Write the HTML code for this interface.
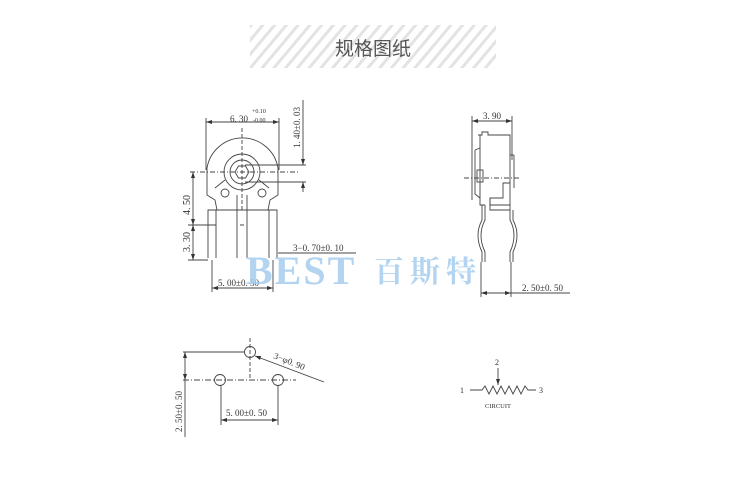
<!DOCTYPE html>
<html><head><meta charset="utf-8"><style>
html,body{margin:0;padding:0;background:#fff;width:750px;height:484px;overflow:hidden}
svg{display:block}
text{font-family:"Liberation Serif",serif;fill:#333}
</style></head><body>
<svg width="750" height="484" viewBox="0 0 750 484" xmlns="http://www.w3.org/2000/svg">
<defs>
<pattern id="st" width="9" height="9" patternUnits="userSpaceOnUse" patternTransform="rotate(40)">
<rect width="9" height="9" fill="#fff"/><rect width="3" height="9" fill="#e3e3e3"/>
</pattern>
</defs>
<rect x="250" y="25" width="246" height="43" fill="url(#st)"/>
<text x="373" y="55" text-anchor="middle" style="font-family:'Liberation Sans','Noto Sans CJK SC',sans-serif;font-size:19px;fill:#555">规格图纸</text>

<g stroke="#444" stroke-width="0.9" fill="none">
<!-- front view -->
<line x1="206" y1="122" x2="279" y2="122"/>
<line x1="206" y1="118" x2="206" y2="170"/>
<line x1="279" y1="118" x2="279" y2="170"/>
<path d="M207 168 A36 36 0 0 1 278 168 L278 195 L270 200 L268 210 L277 210 L277 258 M207 168 L207 195 L215 200 L217 210 L208 210 L208 258"/>
<path d="M208 210 L277 210 M216 210 L216 258 M269 210 L269 258"/>
<path d="M237 195 L237 258 M247 195 L247 258 M240 225 L244 225"/>
<circle cx="242" cy="172" r="18"/>
<circle cx="242" cy="172" r="12"/>
<polygon points="249,172 245.5,178 238.5,178 235,172 238.5,166 245.5,166"/>
<circle cx="225" cy="193" r="4"/>
<circle cx="262" cy="193" r="4"/>
<path d="M215 188 L225 180 M269 188 L259 180" />
<line x1="242" y1="128" x2="242" y2="210" stroke-dasharray="4,2"/>
<line x1="190" y1="172" x2="298" y2="172" stroke-dasharray="5,2,1,2"/>
<line x1="245" y1="165" x2="306" y2="165"/>
<line x1="245" y1="182" x2="306" y2="182"/>
<line x1="303" y1="100" x2="303" y2="165"/>
<line x1="303" y1="182" x2="303" y2="192"/>
<line x1="188" y1="225" x2="216" y2="225"/>
<line x1="188" y1="260" x2="208" y2="260"/>
<line x1="193" y1="172" x2="193" y2="260"/>
<line x1="212" y1="260" x2="212" y2="292"/>
<line x1="273" y1="260" x2="273" y2="292"/>
<line x1="212" y1="288" x2="273" y2="288"/>
<line x1="278" y1="253" x2="356" y2="253"/>
<!-- side view -->
<line x1="472" y1="121" x2="512" y2="121"/>
<line x1="472" y1="116" x2="472" y2="200"/>
<line x1="512" y1="116" x2="512" y2="160"/>
<path d="M478 135 L482 135 L482 132 L488 132 L488 135 L510 135 L510 205 L490 205 L490 198 M480 135 L480 205 L485 205"/>
<path d="M475 150 L480 148 M475 150 L475 194 L480 198"/>
<rect x="477" y="170" width="6" height="12"/>
<path d="M503 183 L510 183 L503 183 L503 198 L490 198 L490 210 L510 210 L510 205"/>
<line x1="510" y1="155" x2="514" y2="155"/><line x1="514" y1="155" x2="514" y2="188"/>
<line x1="464" y1="178" x2="520" y2="178" stroke-dasharray="5,2,1,2"/>
<path d="M482 205 L482 220 Q474 235 482 252 L482 262 M485 205 L485 220 Q477 235 485 252 L485 262"/>
<path d="M510 210 L510 220 Q518 235 510 252 L510 262 M513 210 L513 220 Q521 235 513 252 L513 262"/>
<line x1="481" y1="262" x2="481" y2="297"/>
<line x1="511" y1="262" x2="511" y2="297"/>
<line x1="481" y1="293" x2="570" y2="293"/>
<!-- bottom left -->
<circle cx="250" cy="352" r="5.5"/>
<circle cx="220" cy="380" r="5.5"/>
<circle cx="278" cy="380" r="5.5"/>
<line x1="183" y1="380" x2="296" y2="380" stroke-dasharray="6,2,1,2"/>
<line x1="250" y1="338" x2="250" y2="380" stroke-dasharray="4,2"/>
<line x1="183" y1="352" x2="244" y2="352"/>
<line x1="185" y1="352" x2="185" y2="437"/>
<line x1="221" y1="386" x2="221" y2="425"/>
<line x1="278" y1="386" x2="278" y2="425"/>
<line x1="221" y1="420" x2="278" y2="420"/>
<line x1="255" y1="356" x2="324" y2="382"/>
<!-- circuit -->
<path d="M470 390 L482 390 L485 386 L489 394 L493 386 L497 394 L501 386 L505 394 L509 386 L513 394 L517 386 L521 394 L525 386 L528 390 L536 390"/>
<line x1="498" y1="368" x2="498" y2="385"/>
</g>
<g fill="#333">
<polygon points="206,122 212,120 212,124"/><polygon points="279,122 273,120 273,124"/>
<polygon points="303,165 301,159 305,159"/><polygon points="303,182 301,188 305,188"/>
<polygon points="193,172 191,178 195,178"/><polygon points="193,225 191,219 195,219"/><polygon points="193,225 191,231 195,231"/><polygon points="193,260 191,254 195,254"/>
<polygon points="212,288 218,286 218,290"/><polygon points="273,288 267,286 267,290"/>
<polygon points="472,121 478,119 478,123"/><polygon points="512,121 506,119 506,123"/>
<polygon points="481,293 487,291 487,295"/><polygon points="511,293 505,291 505,295"/>
<polygon points="185,352 183,358 187,358"/><polygon points="185,380 183,374 187,374"/>
<polygon points="221,420 227,418 227,422"/><polygon points="278,420 272,418 272,422"/>
<polygon points="255,356 261,356 260,360"/>
<polygon points="498,385 496,379 500,379"/>
</g>
<g style="font-size:9px">
<text x="230" y="122">6. 30</text>
<text x="252" y="113" style="font-size:6px">+0.10</text>
<text x="253" y="122" style="font-size:6px">-0.00</text>
<text transform="translate(300,148) rotate(-90)">1. 40±0. 03</text>
<text transform="translate(190,215) rotate(-90)" style="font-size:10px">4. 50</text>
<text transform="translate(190,252) rotate(-90)" style="font-size:10px">3. 30</text>
<text x="293" y="251">3−0. 70±0. 10</text>
<text x="218" y="286">5. 00±0. 50</text>
<text x="483" y="119">3. 90</text>
<text x="522" y="291">2. 50±0. 50</text>
<text transform="translate(273,358) rotate(22)">3−φ0. 90</text>
<text x="226" y="416">5. 00±0. 50</text>
<text transform="translate(182,432) rotate(-90)">2. 50±0. 50</text>
</g>
<g style="font-family:'Liberation Sans',sans-serif;font-size:8px">
<text x="460" y="393">1</text><text x="539" y="393">3</text><text x="495" y="365">2</text>
<text x="485" y="408" style="font-size:6.5px">CIRCUIT</text>
</g>
<text x="246" y="284" style="font-family:'Liberation Serif',serif;font-weight:bold;font-size:40px;fill:#a6cdee;opacity:.85;letter-spacing:2px">BEST</text>
<text x="374" y="282" style="font-family:'Noto Serif CJK SC','WenQuanYi Zen Hei',serif;font-weight:bold;font-size:30px;fill:#a6cdee;opacity:.85;letter-spacing:6px">百斯特</text>
</svg>
</body></html>
